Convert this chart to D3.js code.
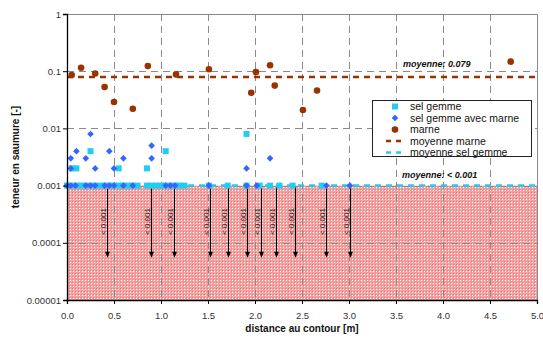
<!DOCTYPE html>
<html><head><meta charset="utf-8">
<script src="https://cdn.jsdelivr.net/npm/d3@7"></script>
<style>body{margin:0;background:#fff}svg{display:block;font-family:"Liberation Sans",Arial,sans-serif}</style>
</head><body><svg id="c" width="543" height="340"></svg>
<script>
// ---- data ----
const yTickValues = [1, 0.1, 0.01, 0.001, 0.0001, 0.00001];
const yTickLabels = ["1", "0.1", "0.01", "0.001", "0.0001", "0.00001"];
const xTickValues = [0, 0.5, 1, 1.5, 2, 2.5, 3, 3.5, 4, 4.5, 5];
const xTickLabels = ["0.0","0.5","1.0","1.5","2.0","2.5","3.0","3.5","4.0","4.5","5.0"];

const marneX = [0.05, 0.15, 0.30, 0.40, 0.50, 0.70, 0.86, 1.16, 1.51, 1.96, 2.01, 2.16, 2.21, 2.51, 2.66, 4.72];
const marneY = [0.086, 0.115, 0.091, 0.053, 0.029, 0.022, 0.123, 0.088, 0.108, 0.042, 0.097, 0.127, 0.056, 0.021, 0.046, 0.147];

const selX = [0.05, 0.10, 0.25, 0.55, 0.85, 1.05, 1.91,
  0.00,0.05,0.10,0.15,0.20,0.25,0.30,0.35,0.40,0.45,0.50,0.55,0.60,0.65,0.70,0.75,
  0.85,0.90,0.95,1.00,1.05,1.10,1.15,1.20,1.25,1.51,1.71,1.91,2.05,2.16,2.26,2.40,2.71];
const selY = [0.002, 0.002, 0.004, 0.002, 0.002, 0.004, 0.008,
  0.001,0.001,0.001,0.001,0.001,0.001,0.001,0.001,0.001,0.001,0.001,0.001,0.001,0.001,0.001,0.001,
  0.001,0.001,0.001,0.001,0.001,0.001,0.001,0.001,0.001,0.001,0.001,0.001,0.001,0.001,0.001,0.001,0.001];

const selMarneX = [0.04, 0.04, 0.10, 0.20, 0.25, 0.30, 0.45, 0.50, 0.60, 0.90, 0.90, 1.91, 2.16,
  0.00, 0.04, 0.09, 0.20, 0.25, 0.30, 0.40, 0.45, 0.50, 0.60, 0.70, 1.05, 1.10, 1.15, 1.51, 1.91, 2.02, 2.76, 3.01];
const selMarneY = [0.003, 0.002, 0.004, 0.003, 0.008, 0.002, 0.004, 0.002, 0.003, 0.005, 0.003, 0.002, 0.003,
  0.001,0.001,0.001,0.001,0.001,0.001,0.001,0.001,0.001,0.001,0.001,0.001,0.001,0.001,0.001,0.001,0.001,0.001,0.001];

const moyenneMarne = 0.079;
const moyenneSel = 0.001;
const detectionLimit = 0.001;
const arrowX = [0.43, 0.89, 1.14, 1.52, 1.71, 1.91, 2.06, 2.22, 2.43, 2.76, 3.01];
const arrowEnd = 0.000055;
const arrowLabel = "< 0.001";

const legendItems = ["sel gemme", "sel gemme avec marne", "marne", "moyenne marne", "moyenne sel gemme"];

// ---- chart ----
const C_SEL = "#22ccf4", C_SM = "#3366ff", C_MARNE = "#993300";
const svg = d3.select("#c");
const L = 67, R = 537, T = 14, B = 300;
const x = d3.scaleLinear().domain([0, 5]).range([L, R]);
const y = d3.scaleLog().domain([1e-5, 1]).range([B, T]);

const defs = svg.append("defs");
const pat = defs.append("pattern").attr("id", "hatch").attr("patternUnits", "userSpaceOnUse")
  .attr("width", 3).attr("height", 3);
pat.append("rect").attr("width", 3).attr("height", 3).attr("fill", "#f2a0a0");
pat.append("rect").attr("x", 1).attr("y", 1).attr("width", 1).attr("height", 1).attr("fill", "#ffffff");
pat.append("rect").attr("x", 0).attr("y", 0).attr("width", 1).attr("height", 1).attr("fill", "#ec7c7c");

// hatched zone below detection limit
svg.append("rect").attr("x", x(0)).attr("y", y(detectionLimit))
  .attr("width", x(5) - x(0)).attr("height", y(1e-5) - y(detectionLimit))
  .attr("fill", "url(#hatch)");

// grid
const grid = svg.append("g").attr("stroke", "#8a8a8a").attr("stroke-width", 1).attr("stroke-dasharray", "7,5");
grid.selectAll("line.h").data(yTickValues.filter(v => v < 1 && v > 1e-5)).join("line")
  .attr("x1", L).attr("x2", R).attr("y1", d => Math.round(y(d)) + 0.5).attr("y2", d => Math.round(y(d)) + 0.5);
grid.selectAll("line.v").data(xTickValues.filter(v => v > 0 && v < 5)).join("line")
  .attr("y1", T).attr("y2", B).attr("x1", d => Math.round(x(d)) + 0.5).attr("x2", d => Math.round(x(d)) + 0.5);

// frame top/right
svg.append("path").attr("d", `M${L},${T + 0.5}H${R + 0.5}V${B}`).attr("fill", "none").attr("stroke", "#8a8a8a");

// arrows
const arr = svg.append("g");
arrowX.forEach(v => {
  const ax = Math.round(x(v)) + 0.5;
  const y0 = y(detectionLimit), y1 = y(arrowEnd);
  arr.append("line").attr("x1", ax).attr("x2", ax).attr("y1", y0 + 1).attr("y2", y1 - 5)
    .attr("stroke", "#000").attr("stroke-width", 1);
  arr.append("path").attr("d", `M${ax - 2.5},${y1 - 6}L${ax + 2.5},${y1 - 6}L${ax},${y1}Z`).attr("fill", "#000");
  arr.append("text").attr("transform", `translate(${ax - 2},${y0 + 36}) rotate(-90)`)
    .attr("text-anchor", "middle").attr("font-size", 8).attr("fill", "#222").text(arrowLabel);
});

// mean lines
svg.append("line").attr("x1", L).attr("x2", R).attr("y1", y(moyenneMarne)).attr("y2", y(moyenneMarne))
  .attr("stroke", C_MARNE).attr("stroke-width", 2.5).attr("stroke-dasharray", "6,5");
svg.append("line").attr("x1", L).attr("x2", R).attr("y1", y(moyenneSel)).attr("y2", y(moyenneSel))
  .attr("stroke", C_SEL).attr("stroke-width", 2.5).attr("stroke-dasharray", "6,5");

// points
const sq = d3.symbol().type(d3.symbolSquare).size(36);
const dia = d3.symbol().type(d3.symbolSquare).size(22);
svg.append("g").selectAll("path").data(d3.range(selX.length)).join("path")
  .attr("d", sq).attr("transform", i => `translate(${x(selX[i])},${y(selY[i])})`).attr("fill", C_SEL);
svg.append("g").selectAll("path").data(d3.range(selMarneX.length)).join("path")
  .attr("d", dia).attr("transform", i => `translate(${x(selMarneX[i])},${y(selMarneY[i])}) rotate(45)`).attr("fill", C_SM);
svg.append("g").selectAll("circle").data(d3.range(marneX.length)).join("circle")
  .attr("cx", i => x(marneX[i])).attr("cy", i => y(marneY[i])).attr("r", 3.3).attr("fill", C_MARNE);

// axes
const yAxis = d3.axisLeft(y).tickValues(yTickValues).tickFormat((d, i) => yTickLabels[i]).tickSizeOuter(0).tickSize(4);
const gy = svg.append("g").attr("transform", `translate(${L},0)`).call(yAxis);
const xAxis = d3.axisBottom(x).tickValues(xTickValues).tickFormat((d, i) => xTickLabels[i]).tickSizeOuter(0).tickSize(4);
const gx = svg.append("g").attr("transform", `translate(0,${B})`).call(xAxis);
[gx, gy].forEach(g => {
  g.select(".domain").attr("stroke", "#000").attr("stroke-width", 1.3);
  g.selectAll(".tick line").attr("stroke", "#000");
  g.selectAll(".tick text").attr("font-size", 9.5).attr("fill", "#333").attr("font-family", "Liberation Sans, Arial, sans-serif");
});
gy.selectAll(".tick text").attr("x", -6);
gx.selectAll(".tick text").attr("y", 12);

svg.append("text").attr("x", (L + R) / 2).attr("y", 332).attr("text-anchor", "middle")
  .attr("font-size", 10).attr("font-weight", "bold").attr("fill", "#111").text("distance au contour [m]");
svg.append("text").attr("transform", `translate(19,${(T + B) / 2}) rotate(-90)`).attr("text-anchor", "middle")
  .attr("font-size", 10).attr("font-weight", "bold").attr("fill", "#111").text("teneur en saumure [-]");

// annotations
svg.append("text").attr("x", 403).attr("y", 67).attr("font-size", 9).attr("font-weight", "bold").attr("font-style", "italic")
  .attr("fill", "#111").text("moyenne: " + moyenneMarne);
svg.append("text").attr("x", 402).attr("y", 178).attr("font-size", 9).attr("font-weight", "bold").attr("font-style", "italic")
  .attr("fill", "#111").text("moyenne: < " + moyenneSel);

// legend
const lg = svg.append("g");
lg.append("rect").attr("x", 372.5).attr("y", 100.5).attr("width", 159).attr("height", 56)
  .attr("fill", "#fff").attr("stroke", "#222").attr("stroke-width", 1);
const rowY = i => 106.5 + i * 11.5;
legendItems.forEach((t, i) => {
  lg.append("text").attr("x", 410).attr("y", rowY(i) + 3.7).attr("font-size", 10.5).attr("fill", "#111").text(t);
});
lg.append("path").attr("d", sq).attr("transform", `translate(395,${rowY(0)})`).attr("fill", C_SEL);
lg.append("path").attr("d", dia).attr("transform", `translate(395,${rowY(1)}) rotate(45)`).attr("fill", C_SM);
lg.append("circle").attr("cx", 395).attr("cy", rowY(2)).attr("r", 3.3).attr("fill", C_MARNE);
lg.append("line").attr("x1", 386).attr("x2", 402).attr("y1", rowY(3)).attr("y2", rowY(3))
  .attr("stroke", C_MARNE).attr("stroke-width", 2.5).attr("stroke-dasharray", "5,5");
lg.append("line").attr("x1", 386).attr("x2", 402).attr("y1", rowY(4)).attr("y2", rowY(4))
  .attr("stroke", C_SEL).attr("stroke-width", 2.5).attr("stroke-dasharray", "5,5");
</script></body></html>
